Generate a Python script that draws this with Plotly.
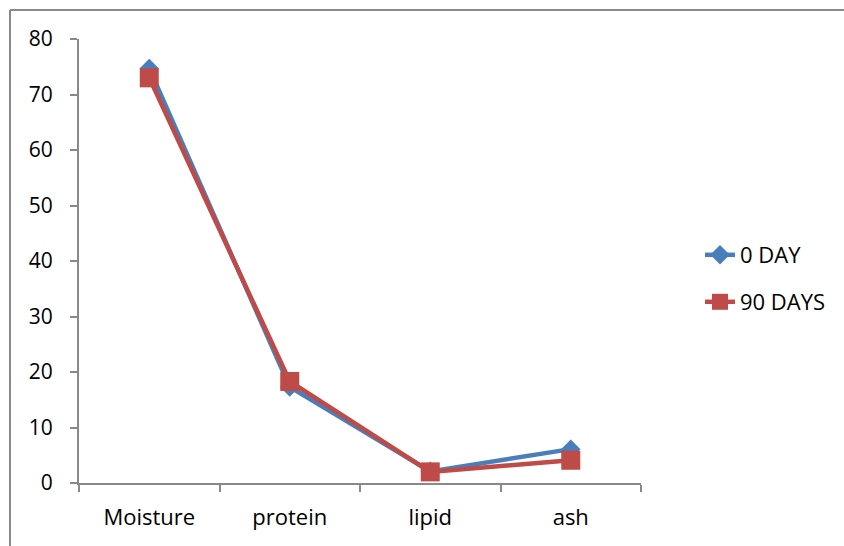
import plotly.graph_objects as go

categories = ["Moisture", "protein", "lipid", "ash"]
day0 = [74.7, 17.3, 2.1, 6.1]
day90 = [73.0, 18.3, 2.0, 4.1]
y_ticks = [0, 10, 20, 30, 40, 50, 60, 70, 80]

blue = "#4A7EBB"
red = "#BE4B48"
grey = "#898989"
font = "Open Sans"

fig = go.Figure()
fig.add_trace(go.Scatter(
    x=categories, y=day0, name="0 DAY", mode="lines+markers",
    line=dict(color=blue, width=4.5),
    marker=dict(symbol="diamond", size=15, color=blue),
    legend="legend",
))
fig.add_trace(go.Scatter(
    x=categories, y=day90, name="90 DAYS", mode="lines+markers",
    line=dict(color=red, width=4.5),
    marker=dict(symbol="square", size=19, color=red),
    legend="legend2",
))

W, H = 844, 546
L, R, T, B = 79, 203, 39, 63
pw, ph = W - L - R, H - T - B

def px(xp):
    return (xp - L) / pw

def py(yp):
    return (H - B - yp) / ph

fig.update_layout(
    width=W, height=H,
    margin=dict(l=L, r=R, t=T, b=B, pad=0),
    paper_bgcolor="white", plot_bgcolor="white",
    font=dict(family=font, size=21, color="black"),
    showlegend=True,
    legend=dict(x=px(700), y=py(255), xanchor="left", yanchor="middle",
                font=dict(size=22, family=font), bgcolor="rgba(0,0,0,0)"),
    legend2=dict(x=px(700), y=py(302), xanchor="left", yanchor="middle",
                 font=dict(size=22, family=font), bgcolor="rgba(0,0,0,0)"),
    xaxis=dict(
        type="category", range=[-0.5, 3.5],
        showline=True, linecolor=grey, linewidth=2,
        ticks="outside", tickson="boundaries", ticklen=7, tickcolor=grey, tickwidth=2,
        showgrid=False, zeroline=False,
        tickfont=dict(size=22, family=font, color="black"),
        ticklabelstandoff=14,
    ),
    yaxis=dict(
        range=[0, 80], tickvals=y_ticks,
        showline=True, linecolor=grey, linewidth=2,
        ticks="outside", ticklen=7, tickcolor=grey, tickwidth=2,
        showgrid=False, zeroline=False,
        tickfont=dict(size=21, family=font, color="black"),
        ticklabelstandoff=13,
    ),
    shapes=[
        dict(type="line", xref="paper", yref="paper",
             x0=px(10), x1=px(W + 5), y0=py(10), y1=py(10),
             line=dict(color=grey, width=2)),
        dict(type="line", xref="paper", yref="paper",
             x0=px(10), x1=px(10), y0=py(10), y1=py(H + 5),
             line=dict(color=grey, width=2)),
    ],
)

fig.write_html("out.html")
